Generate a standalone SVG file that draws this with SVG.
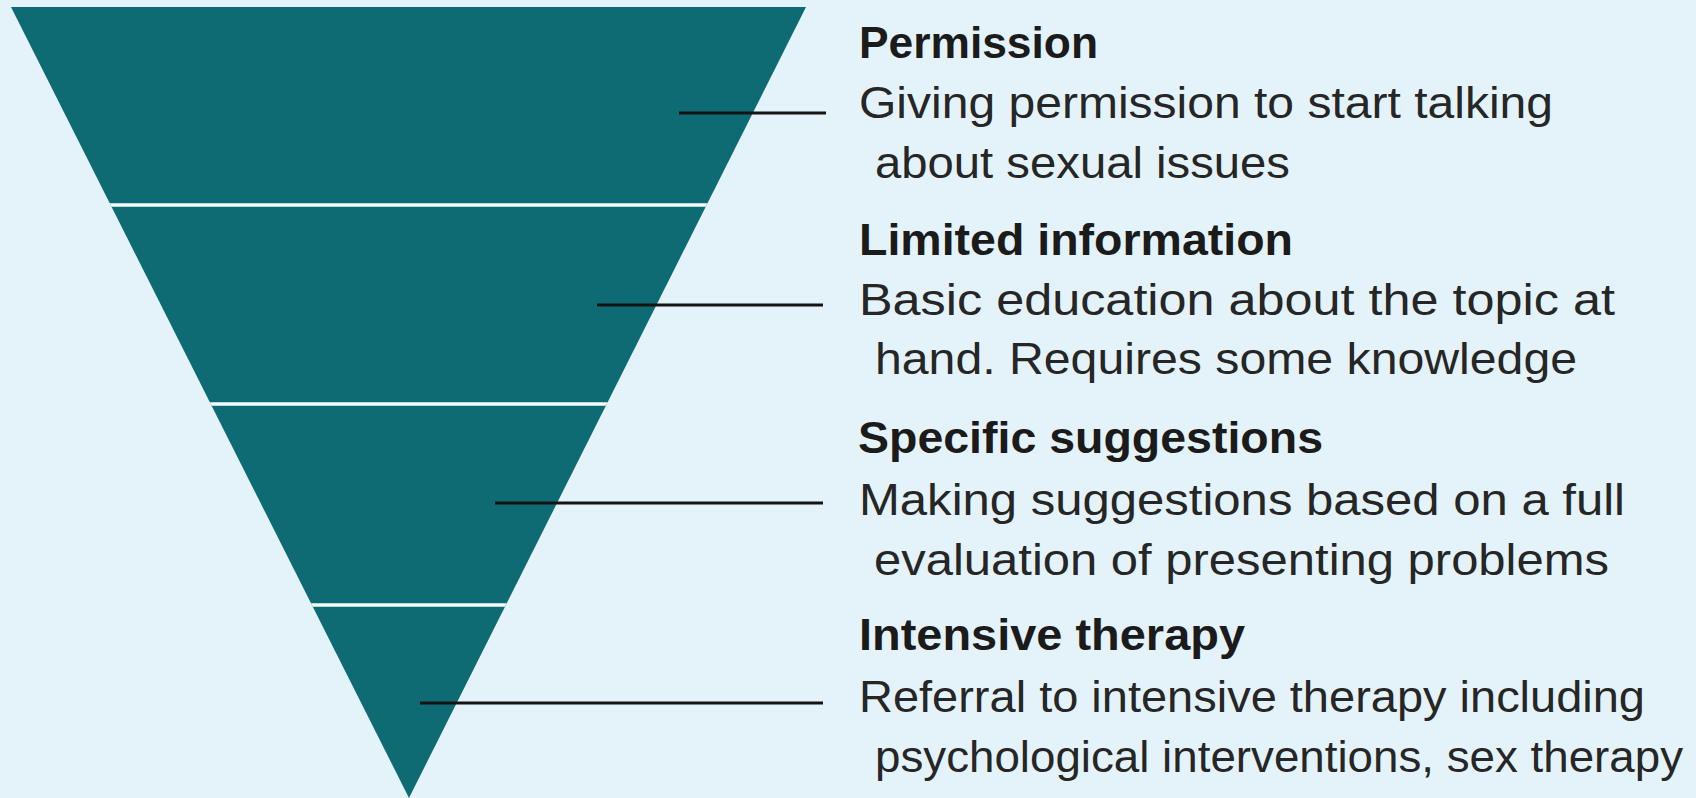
<svg xmlns="http://www.w3.org/2000/svg" width="1696" height="798" viewBox="0 0 1696 798">
  <defs>
    <clipPath id="tri">
      <polygon points="11,7 806,7 409,798"/>
    </clipPath>
    <style>
      .band { fill: #0e6b74; }
      .sep { stroke: #f4fbfd; stroke-width: 3.5; }
      .lead { stroke: #141414; stroke-width: 3.2; fill: none; }
      .head { font-family: "Liberation Sans", Arial, sans-serif; font-weight: bold; font-size: 44px; fill: #1b1b1b; }
      .body { font-family: "Liberation Sans", Arial, sans-serif; font-size: 45px; fill: #262626; }
    </style>
  </defs>
  <rect x="0" y="0" width="1696" height="798" fill="#e4f3f9"/>

  <g id="funnel">
    <polygon class="band" points="11,7 806,7 409,798"/>
    <g clip-path="url(#tri)">
      <line class="sep" x1="0" y1="205" x2="820" y2="205"/>
      <line class="sep" x1="0" y1="404" x2="820" y2="404"/>
      <line class="sep" x1="0" y1="605" x2="820" y2="605"/>
    </g>
  </g>

  <g id="connectors">
    <line class="lead" x1="679" y1="113" x2="826" y2="113"/>
    <line class="lead" x1="597" y1="305" x2="823" y2="305"/>
    <line class="lead" x1="495" y1="503" x2="823" y2="503"/>
    <line class="lead" x1="420" y1="703" x2="823" y2="703"/>
  </g>

  <g id="permission">
    <text class="head" x="859" y="58" textLength="239" lengthAdjust="spacingAndGlyphs">Permission</text>
    <text class="body" x="859" y="118" textLength="694" lengthAdjust="spacingAndGlyphs">Giving permission to start talking</text>
    <text class="body" x="875" y="178" textLength="415" lengthAdjust="spacingAndGlyphs">about sexual issues</text>
  </g>

  <g id="limited-information">
    <text class="head" x="859" y="255" textLength="434" lengthAdjust="spacingAndGlyphs">Limited information</text>
    <text class="body" x="859" y="315" textLength="756" lengthAdjust="spacingAndGlyphs">Basic education about the topic at</text>
    <text class="body" x="875" y="374" textLength="702" lengthAdjust="spacingAndGlyphs">hand. Requires some knowledge</text>
  </g>

  <g id="specific-suggestions">
    <text class="head" x="858" y="453" textLength="465" lengthAdjust="spacingAndGlyphs">Specific suggestions</text>
    <text class="body" x="859" y="515" textLength="766" lengthAdjust="spacingAndGlyphs">Making suggestions based on a full</text>
    <text class="body" x="874" y="575" textLength="735" lengthAdjust="spacingAndGlyphs">evaluation of presenting problems</text>
  </g>

  <g id="intensive-therapy">
    <text class="head" x="859" y="650" textLength="386" lengthAdjust="spacingAndGlyphs">Intensive therapy</text>
    <text class="body" x="859" y="712" textLength="786" lengthAdjust="spacingAndGlyphs">Referral to intensive therapy including</text>
    <text class="body" x="875" y="772" textLength="808" lengthAdjust="spacingAndGlyphs">psychological interventions, sex therapy</text>
  </g>
</svg>
